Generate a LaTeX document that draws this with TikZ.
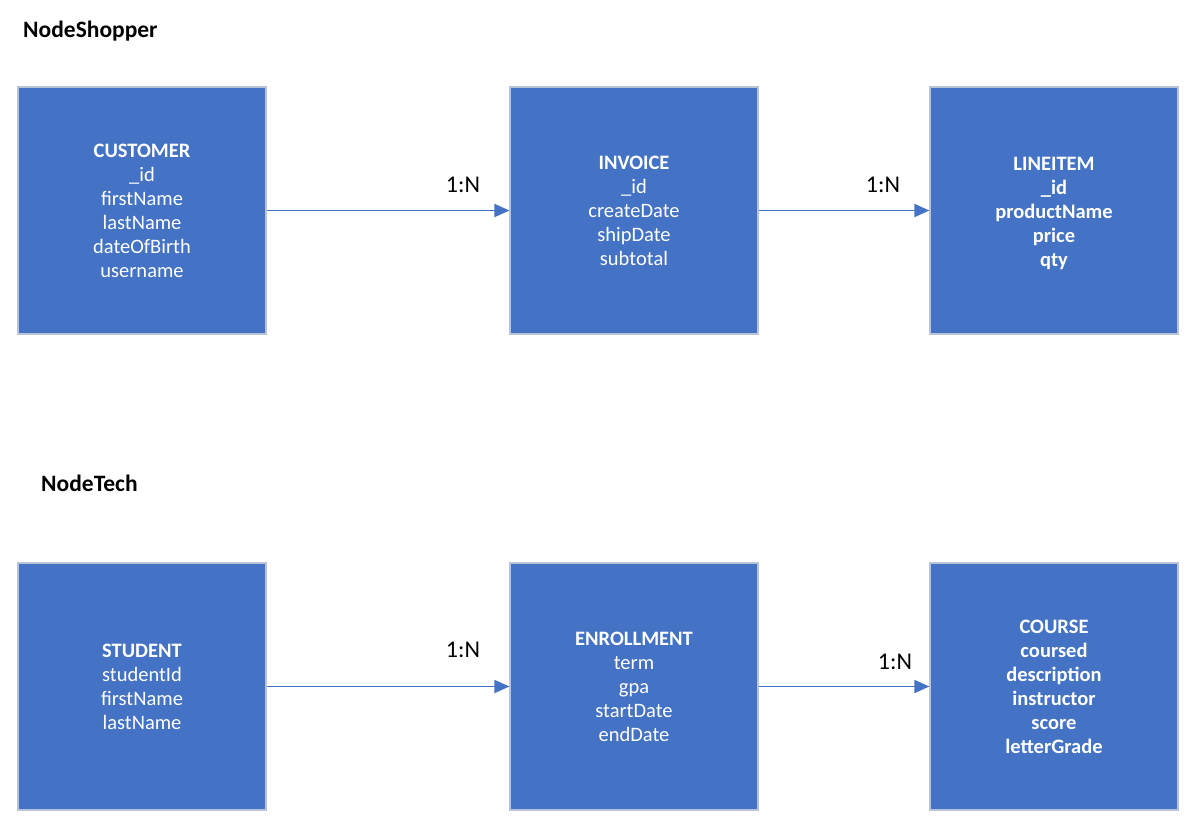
\documentclass[tikz,border=0pt]{standalone}
\usepackage{fontspec}
\setmainfont{Carlito}
\usetikzlibrary{arrows.meta}
\definecolor{boxblue}{RGB}{68,114,196}
\definecolor{boxedge}{RGB}{185,195,215}
\tikzset{
  entity/.style={fill=boxblue, draw=boxedge, line width=1.2pt, minimum width=248pt, minimum height=247pt, text=white, align=center, inner sep=0pt, font=\fontsize{20.5}{24}\selectfont},
  boldentity/.style={entity, font=\fontsize{20.5}{24}\selectfont\bfseries},
  rel/.style={draw=boxblue, line width=1.8pt, -{Triangle[length=15pt,width=13pt]}},
  card/.style={font=\fontsize{24}{28}\selectfont, text=black, inner sep=0pt},
  heading/.style={font=\fontsize{23.5}{28}\selectfont\bfseries, text=black, anchor=west, inner sep=0pt}
}
\begin{document}
\begin{tikzpicture}[x=1pt,y=-1pt]
\useasboundingbox (0,0) rectangle (1189,822);
\node[heading] (t1) at (23,31) {NodeShopper};
\node[heading] (t2) at (41,483) {NodeTech};

\node[entity] (cust) at (142,210.5) {\textbf{CUSTOMER}\\\_id\\firstName\\lastName\\dateOfBirth\\username};
\node[entity] (inv) at (634,210.5) {\textbf{INVOICE}\\\_id\\createDate\\shipDate\\subtotal};
\node[boldentity, text depth=0pt] (line) at (1054,210.5) {};
\node[boldentity, fill=none, draw=none, minimum width=0pt, minimum height=0pt] (linetext) at ([yshift=-2.5pt]line.center) {LINEITEM\\\_id\\productName\\price\\qty};

\node[entity] (stud) at (142,686.5) {\textbf{STUDENT}\\studentId\\firstName\\lastName};
\node[entity] (enr) at (634,686.5) {\textbf{ENROLLMENT}\\term\\gpa\\startDate\\endDate};
\node[boldentity] (course) at (1054,686.5) {COURSE\\coursed\\description\\instructor\\score\\letterGrade};

\draw[rel] (cust.east) -- (inv.west);
\draw[rel] (inv.east) -- (line.west);
\draw[rel] (stud.east) -- (enr.west);
\draw[rel] (enr.east) -- (course.west);

\node[card] (c1) at (463,185) {1:N};
\node[card] (c2) at (883,185) {1:N};
\node[card] (c3) at (463,650) {1:N};
\node[card] (c4) at (895,662) {1:N};
\end{tikzpicture}
\end{document}
